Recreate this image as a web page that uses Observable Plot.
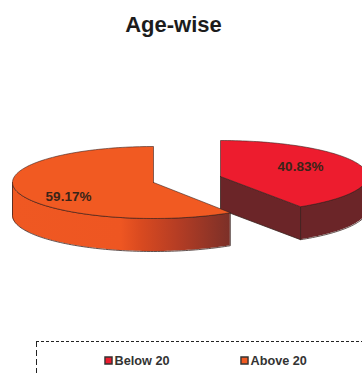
<!DOCTYPE html>
<html>
<head>
<meta charset="utf-8">
<script src="https://cdn.jsdelivr.net/npm/d3@7"></script>
<script src="https://cdn.jsdelivr.net/npm/@observablehq/plot@0.6"></script>
<style>
  html, body { margin: 0; padding: 0; background: #fff; overflow: hidden; }
  svg { display: block; }
</style>
</head>
<body>
<div id="chart"></div>
<script>
const chartTitle = "Age-wise";
const categories = ["Below 20", "Above 20"];
const shares = [40.83, 59.17];
const colors = ["#ed1c2e", "#f15a22"];
const legendX = [103, 239];
const labelX = [300, 68];
const labelY = [166, 196];

// Pie projection: each wedge has its own exploded centre and width on a flattened disc.
const centres = [[220, 176], [153, 182]];
const radiiX = [147, 141];
const radiusY = 36, depth = 33;
const outline = "#3a2320";
const font = "Liberation Sans, Arial, sans-serif";

// Angle 0 is twelve o'clock; sign -1 sweeps counter-clockwise, +1 clockwise.
function rim(centre, radiusX, sign, from, to) {
  const n = Math.max(2, Math.ceil(Math.abs(to - from) * 40));
  return d3.range(n + 1).map(i => {
    const a = from + (to - from) * i / n;
    return {
      x: centre[0] + sign * radiusX * Math.sin(a),
      y: centre[1] - radiusY * Math.cos(a)
    };
  });
}

const sweepRed = shares[0] / 100 * 2 * Math.PI;
const sweepOrange = shares[1] / 100 * 2 * Math.PI;

const redArc = rim(centres[0], radiiX[0], 1, 0, sweepRed);
const orangeArc = rim(centres[1], radiiX[1], -1, 0, sweepOrange);
const redTop = [{x: centres[0][0], y: centres[0][1]}, ...redArc, {x: centres[0][0], y: centres[0][1]}];
const orangeTop = [{x: centres[1][0], y: centres[1][1]}, ...orangeArc, {x: centres[1][0], y: centres[1][1]}];

// Outer walls only exist on the part of each rim that faces the viewer.
const redWall = rim(centres[0], radiiX[0], 1, Math.PI / 2, sweepRed);
const orangeWall = rim(centres[1], radiiX[1], -1, Math.PI / 2, sweepOrange);

// Cut face of the red wedge, running from its centre out to the front of the rim.
const tip = redArc[redArc.length - 1];
const redCut = [
  {x: centres[0][0], y: centres[0][1]},
  tip,
  {x: tip.x, y: tip.y + depth},
  {x: centres[0][0], y: centres[0][1] + depth},
  {x: centres[0][0], y: centres[0][1]}
];

const wallShade = "#6b2528";
const legendRows = categories.map((c, i) => ({c, x: legendX[i]}));
const sliceLabels = categories.map((c, i) => ({
  text: shares[i].toFixed(2) + "%", x: labelX[i], y: labelY[i]
}));

function wallMarks(points, fill) {
  const bottom = points.map(p => ({x: p.x, y: p.y + depth}));
  const edge = [...points, ...bottom.slice().reverse(), points[0]];
  return [
    Plot.areaY(points, {x: "x", y1: "y", y2: d => d.y + depth, fill}),
    Plot.line(edge, {x: "x", y: "y", stroke: outline, strokeWidth: 0.8})
  ];
}

function wallGradient() {
  const svg = d3.create("svg:g");
  const g = svg.append("defs").append("linearGradient").attr("id", "orange-wall");
  [[0, "#ef5822"], [0.5, "#ee5622"], [0.59, "#d94a20"], [0.76, "#b53d24"], [1, "#7c3028"]]
    .forEach(([o, c]) => g.append("stop").attr("offset", o).attr("stop-color", c));
  return svg.node();
}

const chart = Plot.plot({
  width: 362,
  height: 373,
  margin: 0,
  style: {background: "#fff"},
  x: {domain: [0, 362], range: [0, 362], axis: null},
  y: {domain: [0, 373], range: [0, 373], axis: null},
  color: {domain: categories, range: colors},
  marks: [
    wallGradient,
    Plot.text([chartTitle], {
      x: 173, y: 24, text: d => d, fontFamily: font, fontWeight: "bold",
      fontSize: 22, fill: "#1c1c1c"
    }),

    // Red wedge, drawn first so the orange wall overlaps it.
    Plot.line(redCut, {x: "x", y: "y", fill: wallShade, stroke: outline, strokeWidth: 0.8}),
    ...wallMarks(redWall, wallShade),
    Plot.line(redTop, {x: "x", y: "y", fill: colors[0], stroke: outline, strokeWidth: 0.6}),

    // Orange wedge.
    ...wallMarks(orangeWall, "url(#orange-wall)"),
    Plot.line(orangeTop, {x: "x", y: "y", fill: colors[1], stroke: outline, strokeWidth: 0.6}),

    Plot.text(sliceLabels, {
      x: "x", y: "y", text: "text", fontFamily: font, fontWeight: "bold",
      fontSize: 13.5, fill: "#3a2418"
    }),

    // Legend frame runs past the right and bottom edges.
    Plot.ruleY([341], {x1: 36, x2: 362, stroke: "#222", strokeWidth: 1, strokeDasharray: "3,2"}),
    Plot.ruleX([36], {y1: 341, y2: 373, stroke: "#222", strokeWidth: 1, strokeDasharray: "6,3"}),
    Plot.dot(legendRows, {
      x: d => d.x + 5, y: 360, symbol: "square", r: 4, fill: "c",
      stroke: "#333", strokeWidth: 1.4
    }),
    Plot.text(legendRows, {
      x: d => d.x + 11, y: 360, text: "c", textAnchor: "start", fontFamily: font,
      fontWeight: "bold", fontSize: 12.7, fill: "#333"
    })
  ]
});

document.getElementById("chart").appendChild(chart);
</script>
</body>
</html>
